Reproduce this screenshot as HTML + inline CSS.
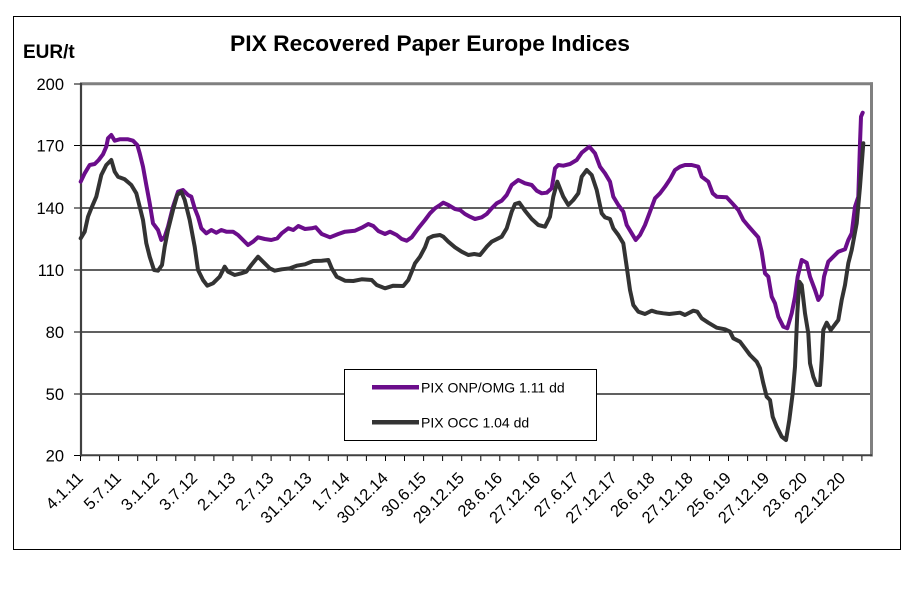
<!DOCTYPE html>
<html>
<head>
<meta charset="utf-8">
<style>
html,body{margin:0;padding:0;background:#fff;}
svg{display:block;}
text{font-family:"Liberation Sans",Arial,sans-serif;fill:#000;}
</style>
</head>
<body>
<svg width="924" height="592" viewBox="0 0 924 592" xmlns="http://www.w3.org/2000/svg">
<rect x="0" y="0" width="924" height="592" fill="#fff"/>
<!-- outer frame -->
<rect x="13.5" y="16.5" width="887" height="533" fill="none" stroke="#000" stroke-width="1"/>
<!-- title -->
<text x="230" y="51" font-size="22.5" font-weight="bold" textLength="400" lengthAdjust="spacingAndGlyphs">PIX Recovered Paper Europe Indices</text>
<text x="23" y="58" font-size="19" font-weight="bold">EUR/t</text>

<!-- gridlines -->
<g stroke="#000" stroke-width="1.2">
<line x1="80" y1="145.5" x2="870" y2="145.5"/>
<line x1="80" y1="208" x2="870" y2="208"/>
<line x1="80" y1="270" x2="870" y2="270"/>
<line x1="80" y1="332" x2="870" y2="332"/>
<line x1="80" y1="394" x2="870" y2="394"/>
</g>
<!-- plot border -->
<line x1="80" y1="83.8" x2="873" y2="83.8" stroke="#808080" stroke-width="3"/>
<line x1="871.5" y1="82.3" x2="871.5" y2="456.5" stroke="#808080" stroke-width="3"/>
<line x1="81" y1="83" x2="81" y2="456.5" stroke="#404040" stroke-width="2.2"/>
<line x1="80" y1="455.3" x2="872" y2="455.3" stroke="#404040" stroke-width="2"/>

<!-- y ticks -->
<g stroke="#000" stroke-width="1">
<line x1="74" y1="84" x2="80" y2="84"/>
<line x1="74" y1="145.5" x2="80" y2="145.5"/>
<line x1="74" y1="208" x2="80" y2="208"/>
<line x1="74" y1="270" x2="80" y2="270"/>
<line x1="74" y1="332" x2="80" y2="332"/>
<line x1="74" y1="394" x2="80" y2="394"/>
<line x1="74" y1="455.5" x2="80" y2="455.5"/>
</g>
<g font-size="16.5" text-anchor="end">
<text x="64" y="90">200</text>
<text x="64" y="151.5">170</text>
<text x="64" y="214">140</text>
<text x="64" y="276">110</text>
<text x="64" y="338">80</text>
<text x="64" y="400">50</text>
<text x="64" y="461.5">20</text>
</g>

<!-- x ticks -->
<g stroke="#000" stroke-width="1">
<line x1="80.5" y1="456" x2="80.5" y2="461"/><line x1="99.6" y1="456" x2="99.6" y2="461"/><line x1="118.6" y1="456" x2="118.6" y2="461"/><line x1="137.7" y1="456" x2="137.7" y2="461"/><line x1="156.7" y1="456" x2="156.7" y2="461"/><line x1="175.8" y1="456" x2="175.8" y2="461"/><line x1="194.9" y1="456" x2="194.9" y2="461"/><line x1="213.9" y1="456" x2="213.9" y2="461"/><line x1="233" y1="456" x2="233" y2="461"/><line x1="252" y1="456" x2="252" y2="461"/><line x1="271.1" y1="456" x2="271.1" y2="461"/><line x1="290.2" y1="456" x2="290.2" y2="461"/><line x1="309.2" y1="456" x2="309.2" y2="461"/><line x1="328.3" y1="456" x2="328.3" y2="461"/><line x1="347.3" y1="456" x2="347.3" y2="461"/><line x1="366.4" y1="456" x2="366.4" y2="461"/><line x1="385.5" y1="456" x2="385.5" y2="461"/><line x1="404.5" y1="456" x2="404.5" y2="461"/><line x1="423.6" y1="456" x2="423.6" y2="461"/><line x1="442.6" y1="456" x2="442.6" y2="461"/><line x1="461.7" y1="456" x2="461.7" y2="461"/><line x1="480.8" y1="456" x2="480.8" y2="461"/><line x1="499.8" y1="456" x2="499.8" y2="461"/><line x1="518.9" y1="456" x2="518.9" y2="461"/><line x1="537.9" y1="456" x2="537.9" y2="461"/><line x1="557" y1="456" x2="557" y2="461"/><line x1="576.1" y1="456" x2="576.1" y2="461"/><line x1="595.1" y1="456" x2="595.1" y2="461"/><line x1="614.2" y1="456" x2="614.2" y2="461"/><line x1="633.2" y1="456" x2="633.2" y2="461"/><line x1="652.3" y1="456" x2="652.3" y2="461"/><line x1="671.4" y1="456" x2="671.4" y2="461"/><line x1="690.4" y1="456" x2="690.4" y2="461"/><line x1="709.5" y1="456" x2="709.5" y2="461"/><line x1="728.5" y1="456" x2="728.5" y2="461"/><line x1="747.6" y1="456" x2="747.6" y2="461"/><line x1="766.7" y1="456" x2="766.7" y2="461"/><line x1="785.7" y1="456" x2="785.7" y2="461"/><line x1="804.8" y1="456" x2="804.8" y2="461"/><line x1="823.8" y1="456" x2="823.8" y2="461"/><line x1="842.9" y1="456" x2="842.9" y2="461"/><line x1="861.9" y1="456" x2="861.9" y2="461"/>
</g>
<!-- x labels -->
<g font-size="16.5" text-anchor="end">
<text transform="translate(84,479) rotate(-45)">4.1.11</text>
<text transform="translate(122.1,479) rotate(-45)">5.7.11</text>
<text transform="translate(160.2,479) rotate(-45)">3.1.12</text>
<text transform="translate(198.4,479) rotate(-45)">3.7.12</text>
<text transform="translate(236.5,479) rotate(-45)">2.1.13</text>
<text transform="translate(274.6,479) rotate(-45)">2.7.13</text>
<text transform="translate(312.7,479) rotate(-45)">31.12.13</text>
<text transform="translate(350.8,479) rotate(-45)">1.7.14</text>
<text transform="translate(389,479) rotate(-45)">30.12.14</text>
<text transform="translate(427.1,479) rotate(-45)">30.6.15</text>
<text transform="translate(465.2,479) rotate(-45)">29.12.15</text>
<text transform="translate(503.3,479) rotate(-45)">28.6.16</text>
<text transform="translate(541.4,479) rotate(-45)">27.12.16</text>
<text transform="translate(579.6,479) rotate(-45)">27.6.17</text>
<text transform="translate(617.7,479) rotate(-45)">27.12.17</text>
<text transform="translate(655.8,479) rotate(-45)">26.6.18</text>
<text transform="translate(693.9,479) rotate(-45)">27.12.18</text>
<text transform="translate(732,479) rotate(-45)">25.6.19</text>
<text transform="translate(770.2,479) rotate(-45)">27.12.19</text>
<text transform="translate(808.3,479) rotate(-45)">23.6.20</text>
<text transform="translate(846.4,479) rotate(-45)">22.12.20</text>
</g>

<!-- series -->
<polyline fill="none" stroke="#6B0D8B" stroke-width="4" stroke-linejoin="round" stroke-linecap="round" points="80.7,181.7 84.7,173.3 89.7,165 94.7,164 98.7,160 103,154.3 106.3,146.7 108,138.3 111.3,135 114.7,140.7 119.7,139.3 128,139.3 133,140.7 137.3,145 139.7,153.3 143,166.7 146.3,185 149.7,203.3 153,223.3 158,230 161.3,240 164.7,236.7 168,226.7 173,206.7 178,191.7 183,190 188,195 191.3,196.7 194.7,208.3 198,216.7 201.3,228.3 206.3,233.3 211.3,230 216.3,232.7 221.3,230 226.3,231.7 233,231.7 238,235 243,240 248,245 253,241.7 258,237.3 264.7,239 271.3,240 277.3,238.3 281.7,233.3 288.3,228.3 293.3,230 298.3,226 305,229 311.7,228.3 315.7,227.3 321.7,234 330,237.3 338.3,234 345,231.7 355,230.7 361.7,227.7 368.3,224 373.3,226 378.3,231 385,234 390,231.7 396.7,235 401.7,239 406.7,240.7 411.7,237.3 418.3,228.3 425,220 430,213.3 435,208.3 440,205 443.3,202.7 448.3,205 455,209 460,210 465,214 470,216.7 475,219 481.7,217.3 486.7,214 491.7,208.3 496.7,203.3 501.7,200.7 506.7,195 511.7,185 518.3,180 525,183.3 531.7,185 536.7,190.7 541.7,193.3 546.7,192.7 551.7,188.3 555,168.3 558.3,165 563.3,165.7 570,164 576.7,160 581.7,152.7 589.3,146.7 595,153.3 600,166.7 605,173.3 610,181.7 613.3,196.7 618.3,205 623.3,211.7 626.7,225 631.7,233.3 635.7,240 640,235 645,225 650,211.7 655,198.3 660,193.3 665,186.7 670,179.3 675,170 680,166.7 685,165 691.7,165 698.3,166.7 701.7,176.7 708.3,181.7 712.7,193.3 716.7,196.7 726.7,197.3 731.7,202.7 738.3,210 743.3,220 748.3,226 753.3,231.7 758.3,237.3 761.7,251.7 765,273.3 768.3,276.7 771.7,296.7 775,303.3 778.3,316.7 783.3,326.7 787.3,328.3 791.7,313.3 795,296.7 797.7,276.7 801.7,260 806.7,262.7 810,276.7 815,290 818.3,300 821.7,295 824,276.7 828.3,261.7 833.3,256.7 838.3,251.7 845,249.3 848.3,240 851.7,233.3 855,206.7 858.3,196.7 860,143.3 861,116.7 862.7,112.7"/>
<polyline fill="none" stroke="#333333" stroke-width="4" stroke-linejoin="round" stroke-linecap="round" points="80.7,238.3 84.7,231.7 88,216.7 91.3,208.3 96.3,196.7 101.3,175 106.3,165 111.3,160 114.7,171.7 118,176.7 124.7,179.3 131.3,185 136.3,193.3 139.7,206.7 143,220 146.3,243.3 149.7,256.7 154,270 158,270.7 162,265 164.7,246.7 168,230 173,210 177.3,195 181.3,191.7 184.7,200 189.7,220 194.7,246.7 198,270 203,280 207.3,285.7 213,283.3 219.7,276.7 224.7,266.7 228,271.7 234.7,275 241.3,273.3 246.3,271.7 251.3,265 258,256.7 263,261.7 269.7,268.3 274.7,270.7 281.7,269.3 290,268.3 296.7,265.7 305,264.3 313.3,261 321.7,260.7 328.3,260 331.7,268.3 336.7,276.7 345,280.7 353.3,281 361.7,279.3 371.7,280 376.7,285 385,288.3 393.3,285.7 403.3,286 408.3,280 411.7,271.7 415,263.3 420,256.7 425,247.3 428.3,238.3 433.3,236 440,235 443.3,236.7 448.3,241.7 455,247.3 461.7,251.7 468.3,255 474.3,254 480,255 486.7,246.7 491.7,241.7 501.7,236.7 506.7,228.3 511.7,211.7 515,204 519.3,202.7 525,210.7 531.7,219 538.3,225 545,226.7 550,216.7 553.3,196.7 557.3,181.7 563.3,196.7 568.3,205 573.3,200 578.3,193.3 581.7,176.7 586.7,170 591.7,175 596.7,190 601.7,213.3 605,217.3 610,219 613.3,228.3 618.3,235 623.3,243.3 626.7,266.7 630,290 633.3,305 638.3,311.7 645,314 651.7,310.7 656.7,312.3 663.3,313.3 669.3,314 680,312.7 685,315 693.3,310.7 697.3,311.7 701.7,318.3 708.3,322.7 716.7,327.7 725,329.3 730,331.7 733.3,338.3 740,341.7 745,348.3 750,355 756.7,361.7 760,368.3 763.3,383.3 766.7,396.7 770,400 772.7,416.7 776.7,426.7 781.7,436.7 786,440 789.3,420 792.7,393.3 795,366.7 797.3,313.3 799.3,281.7 801.7,285 805,313.3 808.3,333.3 810,363.3 813.3,376.7 816.7,385 820,385 821.7,360 823.3,330 826.7,322.7 830.7,330 833.3,326.7 838.3,320 841.7,300 845,285 848.3,263.3 851.7,250 856.7,223.3 860,186.7 863.3,143.3"/>

<!-- legend -->
<rect x="344.5" y="369.5" width="252" height="71" fill="#fff" stroke="#000" stroke-width="1"/>
<line x1="372" y1="387.3" x2="419" y2="387.3" stroke="#6B0D8B" stroke-width="4.5"/>
<line x1="372" y1="422.3" x2="419" y2="422.3" stroke="#333333" stroke-width="4.5"/>
<text x="421" y="392.5" font-size="14">PIX ONP/OMG 1.11 dd</text>
<text x="421" y="427.5" font-size="14">PIX OCC 1.04 dd</text>
</svg>
</body>
</html>
